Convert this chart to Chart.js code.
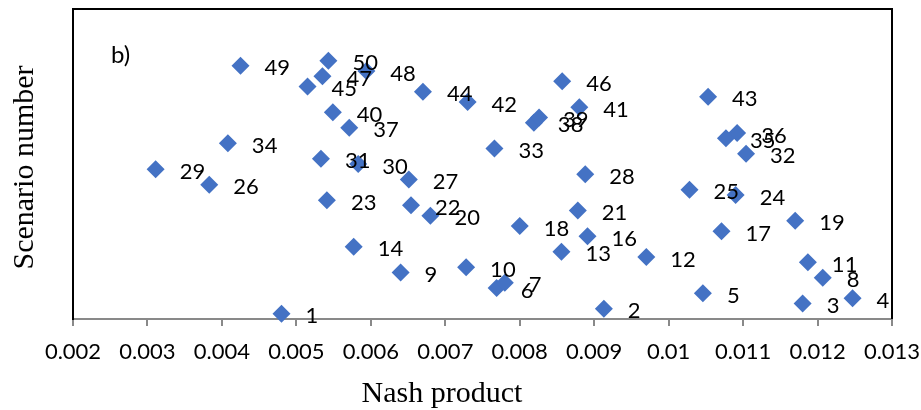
<!DOCTYPE html>
<html>
<head>
<meta charset="utf-8">
<script src="https://cdn.jsdelivr.net/npm/chart.js@4/dist/chart.umd.min.js"></script>
<style>
  html, body { margin: 0; padding: 0; background: #fff; }
  #wrap { width: 921px; height: 410px; }
</style>
</head>
<body>
<div id="wrap"><canvas id="chart" width="921" height="410"></canvas></div>
<script>
// Scenario numbers (scenario 15 has no point on this panel)
const scenarioIds = [1, 2, 3, 4, 5, 6, 7, 8, 9, 10, 11, 12, 13, 14, 16, 17, 18, 19, 20,
  21, 22, 23, 24, 25, 26, 27, 28, 29, 30, 31, 32, 33, 34, 35, 36, 37, 38, 39, 40,
  41, 42, 43, 44, 45, 46, 47, 48, 49, 50];

// Nash product of each scenario
const nashProduct = [0.00480, 0.00913, 0.01180, 0.01247, 0.01046, 0.00769, 0.00780, 0.01207,
  0.00640, 0.00728, 0.01187, 0.00970, 0.00856, 0.00577, 0.00891, 0.01071, 0.00800, 0.01170,
  0.00680, 0.00878, 0.00654, 0.00541, 0.01090, 0.01028, 0.00383, 0.00651, 0.00888, 0.00311,
  0.00583, 0.00533, 0.01104, 0.00766, 0.00408, 0.01077, 0.01092, 0.00571, 0.00819, 0.00826,
  0.00549, 0.00880, 0.00730, 0.01053, 0.00670, 0.00515, 0.00857, 0.00535, 0.00594, 0.00425,
  0.00543];

// X axis ticks
const xTickValues = [0.002, 0.003, 0.004, 0.005, 0.006, 0.007, 0.008, 0.009, 0.010, 0.011, 0.012, 0.013];
const xTickLabels = ['0.002', '0.003', '0.004', '0.005', '0.006', '0.007', '0.008', '0.009', '0.01', '0.011', '0.012', '0.013'];

const panelTag = 'b)';
const xTitle = 'Nash product';
const yTitle = 'Scenario number';

const LABEL_FONT = '22px Lato, "Open Sans", sans-serif';
const TAG_FONT = '24px Lato, "Open Sans", sans-serif';
const TITLE_FONT = '30px "Liberation Serif", "Times New Roman", serif';

// Scenario number written to the right of each diamond, plus frame and titles
const annotate = {
  id: 'annotate',
  beforeDatasetsDraw(chart) {
    const { ctx, chartArea: a } = chart;
    ctx.save();
    ctx.strokeStyle = '#000';
    ctx.lineWidth = 2;
    ctx.beginPath();
    ctx.moveTo(a.left, a.top);
    ctx.lineTo(a.right, a.top);
    ctx.lineTo(a.right, a.bottom);
    ctx.stroke();
    ctx.restore();
  },
  afterDatasetsDraw(chart) {
    const { ctx, chartArea: a } = chart;
    const meta = chart.getDatasetMeta(0);
    ctx.save();
    ctx.fillStyle = '#000';
    ctx.font = LABEL_FONT;
    ctx.textAlign = 'left';
    ctx.textBaseline = 'alphabetic';
    meta.data.forEach((pt, i) => {
      ctx.fillText(String(scenarioIds[i]), pt.x + 24, pt.y + 9.5);
    });

    // panel tag
    ctx.font = TAG_FONT;
    ctx.fillText(panelTag, a.left + 38, a.top + 54);

    // axis titles
    ctx.font = TITLE_FONT;
    ctx.textAlign = 'center';
    ctx.fillText(xTitle, 442, 401.5);
    ctx.translate(33.3, 167.5);
    ctx.rotate(-Math.PI / 2);
    ctx.fillText(yTitle, 0, 0);
    ctx.restore();
  }
};

new Chart(document.getElementById('chart'), {
  type: 'scatter',
  data: {
    datasets: [{
      data: scenarioIds.map((id, i) => ({ x: nashProduct[i], y: id })),
      pointStyle: 'rectRot',
      pointRadius: 9,
      pointHoverRadius: 9,
      backgroundColor: '#4472C4',
      borderWidth: 0,
      clip: false
    }]
  },
  options: {
    responsive: false,
    animation: false,
    devicePixelRatio: 1,
    layout: { padding: { top: 6, right: 29, left: 0, bottom: 0 } },
    plugins: {
      legend: { display: false },
      tooltip: { enabled: false }
    },
    scales: {
      x: {
        type: 'linear',
        min: 0.002,
        max: 0.013,
        afterBuildTicks(scale) {
          scale.ticks = xTickValues.map(v => ({ value: v }));
        },
        afterFit(scale) {
          scale.height = 91;
          scale.paddingLeft = 0;
          scale.paddingRight = 0;
        },
        ticks: {
          callback: (v, i) => xTickLabels[i],
          color: '#000',
          font: { family: 'Lato, "Open Sans", sans-serif', size: 22 },
          padding: 13,
          maxRotation: 0,
          autoSkip: false
        },
        grid: {
          display: true,
          drawOnChartArea: false,
          drawTicks: true,
          tickLength: 7,
          color: '#898989',
          lineWidth: 2
        },
        border: { display: true, color: '#898989', width: 2 }
      },
      y: {
        type: 'linear',
        min: 0,
        max: 60,
        afterFit(scale) {
          scale.width = 73;
          scale.paddingTop = 0;
          scale.paddingBottom = 0;
        },
        ticks: { display: false },
        grid: { display: false, drawTicks: false },
        border: { display: true, color: '#000', width: 2 }
      }
    }
  },
  plugins: [annotate]
});
</script>
</body>
</html>
